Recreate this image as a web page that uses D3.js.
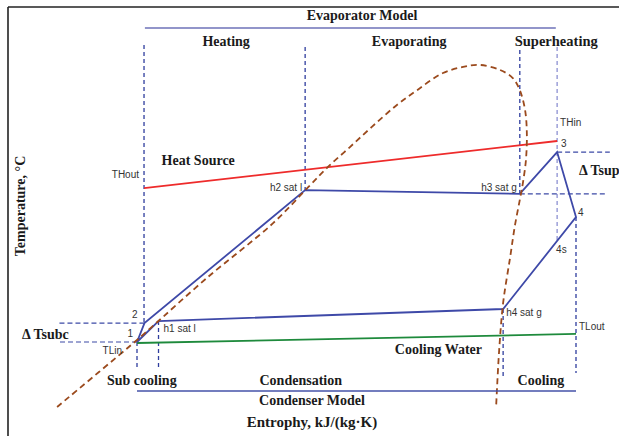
<!DOCTYPE html>
<html>
<head>
<meta charset="utf-8">
<script src="https://cdn.jsdelivr.net/npm/d3@7"></script>
<style>
  body { margin: 0; background: #fff; }
  svg { display: block; }
  .serif { font-family: "Liberation Serif", "Times New Roman", serif; font-weight: bold; fill: #1a1a1a; }
  .sans { font-family: "Liberation Sans", Arial, sans-serif; font-size: 10px; fill: #333; }
</style>
</head>
<body>
<svg id="chart" width="619" height="436"></svg>
<script>
// refrigerant cycle, entropy (scaled) and temperature in degC
var cycleLabels = ["1", "2", "h2 sat l", "h3 sat g", "3", "4", "h4 sat g", "h1 sat l", "1"];
var cycleEntropy = [1.000, 1.017, 1.383, 1.872, 1.957, 2.000, 1.834, 1.049, 1.000];
var cycleTemp = [20.3, 25.9, 65.4, 64.3, 76.7, 57.4, 30.1, 26.5, 20.3];

// heat source (red) and cooling water (green)
var heatEntropy = [1.016, 1.957];
var heatTemp = [66.0, 80.0];
var waterEntropy = [1.000, 2.000];
var waterTemp = [20.0, 22.7];

// saturation dome
var domeEntropy = [0.818, 1.000, 1.034, 1.159, 1.310, 1.390, 1.435, 1.485, 1.535, 1.592, 1.638, 1.697, 1.743, 1.781,
                   1.827, 1.856, 1.872, 1.884, 1.888, 1.886, 1.879, 1.872, 1.861, 1.850, 1.834, 1.825, 1.818];
var domeTemp = [1.0, 20.9, 24.8, 39.3, 55.6, 66.3, 72.3, 78.2, 84.2, 90.7, 95.1, 100.2, 102.0, 102.6,
                101.1, 98.7, 95.1, 89.2, 82.4, 74.4, 67.5, 62.5, 55.0, 45.5, 31.9, 17.9, 1.0];

// dashed guides
var vGuideEntropy = [1.016, 1.000, 1.049, 1.383, 1.872, 1.957, 2.000, 1.834];
var vGuideTop = [108.5, 20.3, 26.5, 107.9, 107.0, 107.9, 57.4, 30.1];
var vGuideBottom = [25.9, 12.0, 12.0, 65.4, 64.3, 50.3, 11.1, 10.2];
var vGuideLight = [false, false, false, false, false, true, false, false];
var hGuideTemp = [76.7, 64.3, 25.9, 20.3];
var hGuideFrom = [1.957, 1.872, 1.017, 1.000];
var hGuideTo = [2.077, 2.072, 0.822, 0.822];

var topSections = ["Heating", "Evaporating", "Superheating"];
var topSectionEntropy = [1.203, 1.620, 1.955];
var bottomSections = ["Sub cooling", "Condensation", "Cooling"];
var bottomSectionEntropy = [1.011, 1.373, 1.920];

var svg = d3.select("#chart");
var x = d3.scaleLinear().domain([1, 2]).range([137, 576]);
var y = d3.scaleLinear().domain([20, 80]).range([343, 141]);

var line = d3.line().x(function(d){ return x(d[0]); }).y(function(d){ return y(d[1]); });

// frame
svg.append("line").attr("x1", 8).attr("y1", 7).attr("x2", 619).attr("y2", 7)
    .attr("stroke", "#222").attr("stroke-width", 1.6);
svg.append("line").attr("x1", 8).attr("y1", 7).attr("x2", 8).attr("y2", 436)
    .attr("stroke", "#222").attr("stroke-width", 1.6);

// guides
vGuideEntropy.forEach(function(s, i){
    svg.append("line")
        .attr("x1", x(s)).attr("x2", x(s))
        .attr("y1", y(vGuideTop[i])).attr("y2", y(vGuideBottom[i]))
        .attr("stroke", vGuideLight[i] ? "#8c90d2" : "#2f3d9e")
        .attr("stroke-width", 1.3)
        .attr("stroke-dasharray", "4,3")
});
hGuideTemp.forEach(function(t, i){
    svg.append("line")
        .attr("x1", x(hGuideFrom[i])).attr("x2", x(hGuideTo[i]))
        .attr("y1", y(t)).attr("y2", y(t))
        .attr("stroke", "#3d4aa6")
        .attr("stroke-width", 1.2)
        .attr("stroke-dasharray", "5,3")
});

// heat source / cooling water
svg.append("path").datum(d3.zip(heatEntropy, heatTemp)).attr("d", line)
    .attr("fill", "none").attr("stroke", "#ee2b2b").attr("stroke-width", 1.8);
svg.append("path").datum(d3.zip(waterEntropy, waterTemp)).attr("d", line)
    .attr("fill", "none").attr("stroke", "#1e8a3c").attr("stroke-width", 1.8);

// cycle
svg.append("path").datum(d3.zip(cycleEntropy, cycleTemp)).attr("d", line)
    .attr("fill", "none").attr("stroke", "#3e49a8").attr("stroke-width", 1.8)
    .attr("stroke-linejoin", "miter");

// dome
svg.append("path").datum(d3.zip(domeEntropy, domeTemp))
    .attr("d", line.curve(d3.curveCatmullRom.alpha(0.5)))
    .attr("fill", "none").attr("stroke", "#9b4a1d").attr("stroke-width", 1.8)
    .attr("stroke-dasharray", "6,4");

// header / footer rules
svg.append("line").attr("x1", x(1.018)).attr("x2", x(1.954)).attr("y1", 28).attr("y2", 28)
    .attr("stroke", "#6e72b8").attr("stroke-width", 1.3);
svg.append("line").attr("x1", x(1.000)).attr("x2", x(2.000)).attr("y1", 391).attr("y2", 391)
    .attr("stroke", "#4452a8").attr("stroke-width", 1.6);

function serif(txt, px, py, size, anchor){
    return svg.append("text").attr("class", "serif")
        .attr("x", px).attr("y", py)
        .attr("font-size", size)
        .attr("text-anchor", anchor || "middle")
        .text(txt);
}
function sans(txt, px, py, anchor){
    return svg.append("text").attr("class", "sans")
        .attr("x", px).attr("y", py)
        .attr("text-anchor", anchor || "start")
        .text(txt);
}

serif("Evaporator Model", 362, 20, 14);
topSections.forEach(function(t, i){
    serif(t, x(topSectionEntropy[i]), 46, t == "Superheating" ? 14.5 : 14);
});
bottomSections.forEach(function(t, i){
    serif(t, x(bottomSectionEntropy[i]), 385, 14);
});
serif("Condenser Model", 312, 405, 14);
serif("Entrophy, kJ/(kg\u00b7K)", 312, 427, 15);
serif("Temperature, \u00b0C", 0, 0, 14).attr("transform", "translate(25,206) rotate(-90)");
serif("Heat Source", x(1.056), 165, 14, "start");
serif("Cooling Water", x(1.786), 354, 14, "end");
serif("\u0394 Tsup", x(2.007), 175, 14, "start");
serif("\u0394 Tsubc", 22, 339, 14, "start");

// point labels
sans("THout", x(heatEntropy[0]) - 5, y(heatTemp[0]) - 10, "end");
sans("THin", x(heatEntropy[1]) + 3, y(heatTemp[1]) - 15, "start");
sans("TLin", x(waterEntropy[0]) - 15, y(waterTemp[0]) + 11, "end");
sans("TLout", x(waterEntropy[1]) + 3, y(waterTemp[1]) - 4, "start");
sans("4s", x(1.957) - 1, y(50.3) + 12, "start");

var labelDx = [-4, -7, -3, -3, 4, 2, 3, 5];
var labelDy = [-5, -5, 1, -3, -5, -1, 7, 11];
var labelAnchor = ["end", "end", "end", "end", "start", "start", "start", "start"];
cycleLabels.slice(0, 8).forEach(function(t, i){
    sans(t, x(cycleEntropy[i]) + labelDx[i], y(cycleTemp[i]) + labelDy[i], labelAnchor[i]);
});
</script>
</body>
</html>
